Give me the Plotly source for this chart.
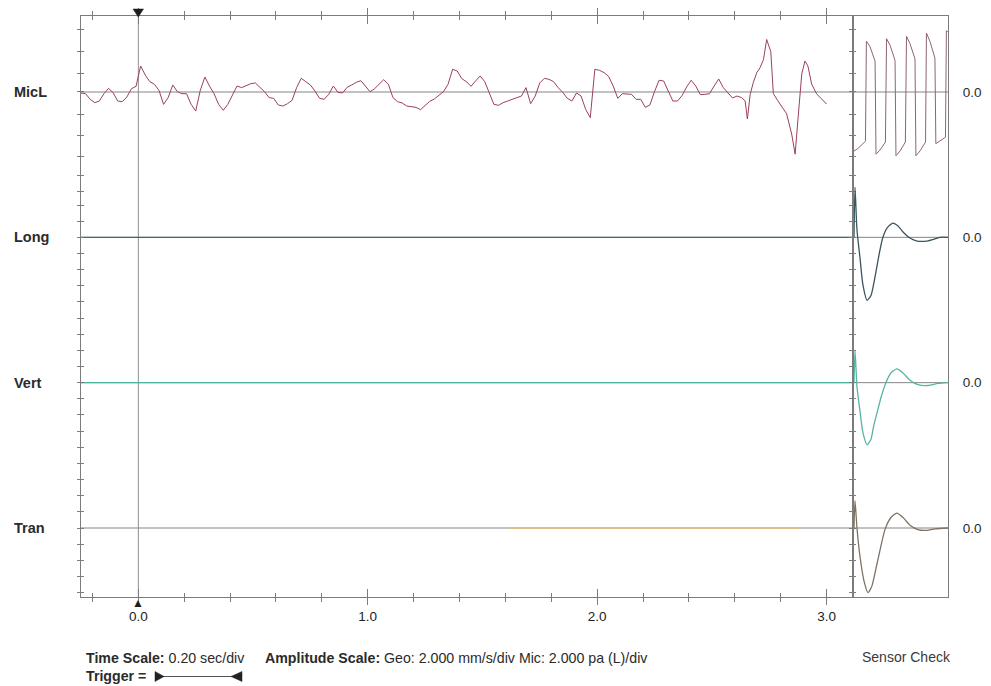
import plotly.graph_objects as go

# ---------------- data ----------------
channels = ["MicL", "Long", "Vert", "Tran"]
channel_offsets_div = [27, 18, 9, 0]          # baseline of each channel, in divisions
right_labels = ["0.0", "0.0", "0.0", "0.0"]
x_tick_vals = [0.0, 1.0, 2.0, 3.0]
x_tick_text = ["0.0", "1.0", "2.0", "3.0"]
trigger_time = 0.0

geo_scale = 2.0   # mm/s per division
mic_scale = 2.0   # pa per division

# MicL event record (pa), sampled every 0.02 s from -0.25 s
mic_t0 = -0.25
mic_dt = 0.02
mic_values = [
    -0.12, -0.21, -0.91, -1.32, -1.12, -0.21, 0.45, -0.08, -1.12, -1.2,
    -0.62, 0.41, 0.70, 3.22, 2.1, 1.28, 0.95, 0.2, -1.53, -0.7,
    0.87, 0.04, -0.21, -0.21, -1.53, -2.36, 0.2, 1.86, 0.74, -0.21,
    -1.53, -2.27, -1.53, -0.29, 0.74, 0.54, 0.74, 1.03, 1.12, 0.54,
    0.04, -0.7, -0.79, -1.61, -1.74, -1.45, -1.03, 0.54, 1.69, 1.28,
    0.87, 0.12, -0.79, -0.91, -0.29, 0.74,
    -0.04, -0.12, 0.58, 0.87, 1.2, 1.4, 0.7, 0.04, 0.41, 0.95,
    1.53, 0.95, -0.7, -1.2, -1.36, -1.74, -1.82, -1.9, -2.19, -1.61,
    -1.16, -0.87, -0.41, 0.04, 0.95, 2.81, 2.6, 1.65, 1.28, 0.7,
    1.36, 1.98, 1.28, -0.08, -1.53, -1.65, -1.32, -1.12, -0.95, -0.7,
    -0.5, 0.54, -1.45, -0.5, 1.12, 1.69, 1.57, 1.28, 0.54, -0.04,
    -0.79, -1.12, -0.12, -0.5, -2.15, -3.18,
    2.81, 2.69, 2.4, 1.94, 0.74, -0.79, -0.21, -0.21, -0.29, -0.91,
    -0.91, -1.9, -1.61, 0.04, 1.45, 1.36, 0.12, -1.12, -1.12, -0.45,
    0.62, 1.45, 0.74, -0.33, -0.29, -0.21, 0.74, 1.61, 0.54, -0.17,
    -0.74, -0.5, -0.7,
]
# final burst of the MicL record (irregular time points)
mic_tail_t = [2.645, 2.655, 2.667, 2.681, 2.696, 2.710, 2.725, 2.739, 2.757, 2.768,
              2.788, 2.806, 2.826, 2.848, 2.863, 2.876, 2.892, 2.906, 2.919, 2.935,
              2.957, 2.979, 3.000]
mic_tail_v = [-1.1, -3.35, -0.3, 1.2, 2.4, 3.0, 4.0, 6.5, 5.0, -0.2,
              -1.1, -1.8, -2.7, -5.2, -7.7, -3.2, 2.23, 3.84, 3.2, 0.99,
              -0.25, -0.87, -1.49]

# geophone event records (flat, mm/s)
geo_t = [-0.25, 3.111]
long_values = [0.0, 0.0]
vert_values = [0.0, 0.0]
tran_t = [1.62, 2.88]
tran_values = [0.0, 0.0]

# sensor check records (time in ms)
sensor_mic_ms = [0, 17, 50, 54, 70, 83, 92, 96, 113, 137, 142, 157, 170, 179, 183, 201, 224,
                 229, 244, 257, 266, 270, 288, 312, 316, 331, 344, 353, 357, 375, 399, 403, 410]
sensor_mic_pa = [-7.3, -7.0, -6.1, 6.3, 5.6, 4.4, 3.8, -7.7, -7.2, -6.2, 6.6, 5.8, 4.6, 3.9,
                 -7.9, -7.3, -6.2, 6.9, 6.0, 4.8, 4.1, -7.9, -7.3, -6.2, 7.3, 6.3, 5.0, 4.2,
                 -6.4, -6.1, -5.6, 7.6, 7.4]
sensor_long_ms = [0, 4.4, 13, 26, 39, 57, 74, 87, 100, 113, 126, 144, 170, 192, 214, 244,
                  275, 318, 353, 375, 410]
sensor_long = [0, 6.2, 0.9, -2.5, -5.9, -7.8, -7.2, -5.6, -3.6, -1.6, 0, 1.15, 1.77, 1.4,
               0.66, -0.09, -0.46, -0.46, -0.2, 0, 0]
sensor_vert_ms = [0, 4.4, 13, 26, 39, 57, 74, 87, 100, 118, 139, 161, 187, 214, 244, 279,
                  323, 366, 410]
sensor_vert = [0, 4.0, -0.5, -3.5, -6.2, -7.7, -7.0, -5.2, -3.8, -1.8, 0, 1.2, 1.7, 1.2,
               0.3, -0.25, -0.35, -0.1, 0]
sensor_tran_ms = [0, 4.4, 13, 26, 44, 61, 78, 96, 113, 135, 161, 187, 214, 244, 279, 310,
                  353, 410]
sensor_tran = [0, 3.4, 0, -3.5, -6.6, -8.0, -7.2, -5.0, -2.8, -0.2, 1.3, 1.85, 1.3, 0.35,
               -0.2, -0.3, -0.1, 0]

# ---------------- layout constants ----------------
# the page body adds an 8 px margin, so the figure is drawn 8 px in from the top-left
BODY = 8
W, H = 991 - BODY, 686 - BODY
PLOT_L, PLOT_R, PLOT_T, PLOT_B = 81, 948, 16, 597        # screen pixels of the frame
ML, MT = PLOT_L - BODY, PLOT_T - BODY
PW, PH = PLOT_R - PLOT_L, PLOT_B - PLOT_T
MR, MB = W - ML - PW, H - MT - PH
Y_RANGE = [-4.273, 31.706]
X_RANGE = [-0.25, 3.111]
S_RANGE = [0, 410]
MAIN_DOM = [0, (852 - PLOT_L) / PW]
SENS_DOM = [(854 - PLOT_L) / PW, 1]
FONT = "Liberation Sans, Arial, sans-serif"
TXT = "#2b2b2b"
AX = "#7c7c7c"


def px_x(px):
    return (px - PLOT_L) / PW


def px_y(py):
    return (PLOT_B - py) / PH


mic_t = [round(mic_t0 + mic_dt * i, 3) for i in range(len(mic_values))] + mic_tail_t
mic_v = mic_values + mic_tail_v


def place(ch, vals, scale):
    off = channel_offsets_div[channels.index(ch)]
    return [off + v / scale for v in vals]


fig = go.Figure()

# main event traces
fig.add_trace(go.Scatter(x=mic_t, y=place("MicL", mic_v, mic_scale), mode="lines",
                         line=dict(color="#9a4257", width=1), xaxis="x", yaxis="y"))
fig.add_trace(go.Scatter(x=geo_t, y=place("Long", long_values, geo_scale), mode="lines",
                         line=dict(color="#3d6b74", width=1.3), xaxis="x", yaxis="y"))
fig.add_trace(go.Scatter(x=geo_t, y=place("Vert", vert_values, geo_scale), mode="lines",
                         line=dict(color="#4cb59c", width=1.3), xaxis="x", yaxis="y"))
fig.add_trace(go.Scatter(x=tran_t, y=place("Tran", tran_values, geo_scale), mode="lines",
                         line=dict(color="#e0bf78", width=1.3), xaxis="x", yaxis="y"))

# sensor check traces
fig.add_trace(go.Scatter(x=sensor_mic_ms, y=place("MicL", sensor_mic_pa, mic_scale), mode="lines",
                         line=dict(color="#8e6672", width=1), xaxis="x2", yaxis="y2"))
fig.add_trace(go.Scatter(x=sensor_long_ms, y=place("Long", sensor_long, geo_scale), mode="lines",
                         line=dict(color="#3b565c", width=1.3, shape="spline", smoothing=0.6),
                         xaxis="x2", yaxis="y2"))
fig.add_trace(go.Scatter(x=sensor_vert_ms, y=place("Vert", sensor_vert, geo_scale), mode="lines",
                         line=dict(color="#57b3a3", width=1.3, shape="spline", smoothing=0.6),
                         xaxis="x2", yaxis="y2"))
fig.add_trace(go.Scatter(x=sensor_tran_ms, y=place("Tran", sensor_tran, geo_scale), mode="lines",
                         line=dict(color="#7f7264", width=1.3, shape="spline", smoothing=0.6),
                         xaxis="x2", yaxis="y2"))

# dummy trace for the overlay axes carrying inward ticks
fig.add_trace(go.Scatter(x=[None], y=[None], xaxis="x3", yaxis="y3", hoverinfo="skip"))

minor_y = [30.84, 29.5, 28.16, 25.6, 24.3, 23.0, 21.86, 20.81] + list(range(20, -5, -1))

fig.update_layout(
    template="none",
    width=W, height=H,
    margin=dict(l=ML, r=MR, t=MT, b=MB, pad=0, autoexpand=False),
    paper_bgcolor="white", plot_bgcolor="white",
    showlegend=False,
    font=dict(family=FONT, color=TXT, size=13),
    xaxis=dict(domain=MAIN_DOM, anchor="y", range=X_RANGE, showgrid=False, zeroline=False,
               automargin=False,
               showline=True, linecolor=AX, linewidth=1, mirror="ticks",
               tickmode="array", tickvals=x_tick_vals, ticktext=x_tick_text,
               ticks="outside", ticklen=7, tickcolor=AX, tickwidth=1,
               minor=dict(dtick=0.2, tick0=0, ticks="outside", ticklen=4, tickcolor=AX),
               tickfont=dict(size=13.5, color="#222")),
    yaxis=dict(domain=[0, 1], anchor="x", range=Y_RANGE, showgrid=False, zeroline=False,
               automargin=False,
               showline=True, linecolor=AX, linewidth=1, mirror="ticks",
               tickmode="array", tickvals=channel_offsets_div, ticks="outside", ticklen=3,
               tickcolor=AX, showticklabels=False,
               minor=dict(tickmode="array", tickvals=minor_y, ticks="outside", ticklen=3,
                          tickcolor=AX)),
    xaxis3=dict(overlaying="x", anchor="y3", range=X_RANGE, showgrid=False, zeroline=False,
                automargin=False,
                showline=False, mirror="ticks", tickmode="array", tickvals=x_tick_vals,
                ticks="inside", ticklen=8, tickcolor=AX, showticklabels=False,
                minor=dict(dtick=0.2, tick0=0, ticks="inside", ticklen=4, tickcolor=AX)),
    yaxis3=dict(overlaying="y", anchor="x3", range=Y_RANGE, showgrid=False, zeroline=False,
                automargin=False,
                showline=False, mirror="ticks", tickmode="array", tickvals=channel_offsets_div,
                ticks="inside", ticklen=3, tickcolor=AX, showticklabels=False,
                minor=dict(tickmode="array", tickvals=minor_y, ticks="inside", ticklen=3,
                           tickcolor=AX)),
    xaxis2=dict(domain=SENS_DOM, anchor="y2", range=S_RANGE, showgrid=False, zeroline=False,
                automargin=False,
                showline=True, linecolor=AX, linewidth=1, mirror=True, ticks="",
                showticklabels=False),
    yaxis2=dict(domain=[0, 1], anchor="x2", side="right", range=Y_RANGE, showgrid=False,
                automargin=False,
                zeroline=False, showline=True, linecolor=AX, linewidth=1, mirror=True,
                tickmode="array", tickvals=channel_offsets_div, ticktext=right_labels,
                ticks="", ticklabelstandoff=11,
                tickfont=dict(size=13.5, color=TXT)),
)

shapes = []
# channel baselines across both panels
for off in channel_offsets_div:
    shapes.append(dict(type="line", xref="paper", yref="y", x0=0, x1=1, y0=off, y1=off,
                       line=dict(color="#858585", width=1), layer="below"))
# trigger line
shapes.append(dict(type="line", xref="x", yref="paper", x0=trigger_time, x1=trigger_time,
                   y0=0, y1=1, line=dict(color="#8f8f8f", width=1), layer="below"))
# trigger legend glyph
ty = px_y(676.5)
shapes.append(dict(type="line", xref="paper", yref="paper", x0=px_x(163), x1=px_x(233),
                   y0=ty, y1=ty, line=dict(color="#555", width=1)))
shapes.append(dict(type="path", xref="paper", yref="paper",
                   path=f"M {px_x(155)} {px_y(671.5)} L {px_x(155)} {px_y(681.5)} L {px_x(164)} {ty} Z",
                   fillcolor="#222", line=dict(color="#222", width=0.5)))
shapes.append(dict(type="path", xref="paper", yref="paper",
                   path=f"M {px_x(231)} {ty} L {px_x(242)} {px_y(671.5)} L {px_x(242)} {px_y(681.5)} Z",
                   fillcolor="#222", line=dict(color="#222", width=0.5)))
# trigger marker on the top frame (drawn as a shape so it is never clipped)
shapes.append(dict(type="path", xref="paper", yref="paper",
                   path=f"M {px_x(133)} {px_y(9)} L {px_x(143.5)} {px_y(9)} L {px_x(138.3)} {px_y(17)} Z",
                   fillcolor="#1e1e1e", line=dict(color="#1e1e1e", width=0.5)))
fig.update_layout(shapes=shapes)

ann = []
for ch, off in zip(channels, channel_offsets_div):
    ann.append(dict(text=f"<b>{ch}</b>", xref="paper", yref="y", x=px_x(12), y=off,
                    xanchor="left", yanchor="middle", showarrow=False,
                    font=dict(size=14.5, color=TXT)))
# trigger marker on the bottom frame at the trigger time
ann.append(dict(text="▲", xref="x", yref="paper", x=trigger_time, y=0, yanchor="top",
                xanchor="center", showarrow=False, yshift=3,
                font=dict(size=12, color="#1e1e1e")))
ann.append(dict(text="<b>Time Scale:</b> 0.20 sec/div", xref="paper", yref="paper",
                x=px_x(84), y=px_y(658), xanchor="left", yanchor="middle", showarrow=False,
                font=dict(size=14.2, color=TXT)))
ann.append(dict(text="<b>Amplitude Scale:</b> Geo: 2.000 mm/s/div Mic: 2.000 pa (L)/div",
                xref="paper", yref="paper", x=px_x(263), y=px_y(658), xanchor="left",
                yanchor="middle", showarrow=False, font=dict(size=14.2, color=TXT)))
ann.append(dict(text="<b>Trigger =</b>", xref="paper", yref="paper", x=px_x(84), y=px_y(676),
                xanchor="left", yanchor="middle", showarrow=False,
                font=dict(size=14.2, color=TXT)))
ann.append(dict(text="Sensor Check", xref="paper", yref="paper", x=px_x(906), y=px_y(657),
                xanchor="center", yanchor="middle", showarrow=False,
                font=dict(size=14, color="#3a3a3a")))
fig.update_layout(annotations=ann)

fig.write_html("out.html")
